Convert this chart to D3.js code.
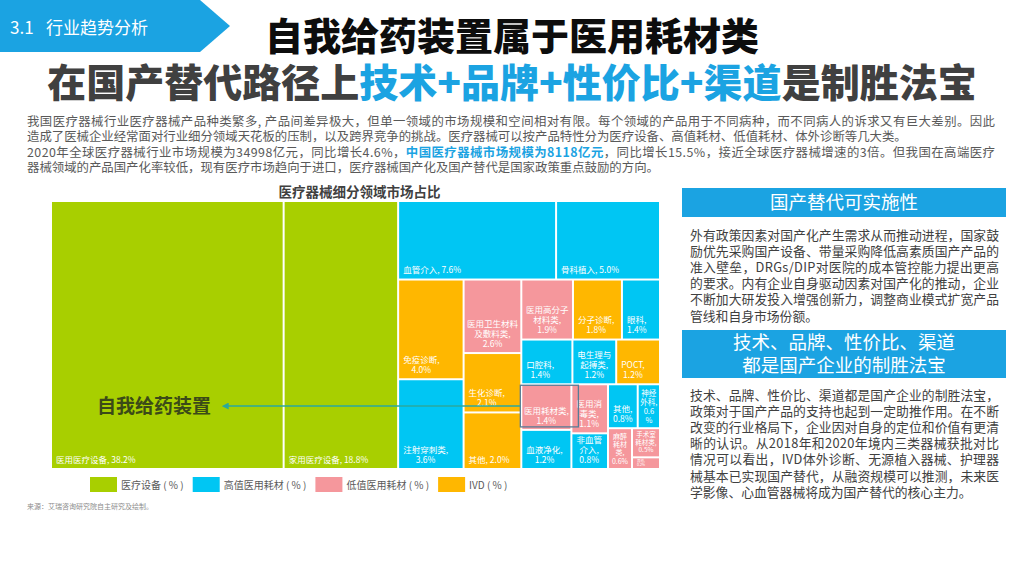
<!DOCTYPE html>
<html lang="zh-CN">
<head>
<meta charset="UTF-8">
<title>医疗器械细分领域市场占比</title>
<script src="https://cdn.jsdelivr.net/npm/d3@7/dist/d3.min.js"></script>
<style>
  body { margin: 0; background: #ffffff; }
  svg { display: block; font-family: "Noto Sans CJK SC", "Microsoft YaHei", sans-serif; }
</style>
</head>
<body>
<svg id="slide" width="1024" height="576"></svg>
<script>
// ---- data ----
const categories = ["医疗设备 ( % )", "高值医用耗材 ( % )", "低值医用耗材 ( % )", "IVD ( % )"];
const catColors = ["#a8cf00", "#00c6f3", "#f5979c", "#ffb700"];

// treemap cells, in the order they are placed
const segNames = ["医用医疗设备", "家用医疗设备", "血管介入", "骨科植入", "免疫诊断", "注射穿刺类",
  "医用卫生材料及敷料类", "生化诊断", "其他", "医用高分子材料类", "分子诊断", "眼科",
  "口腔科", "电生理与起搏类", "POCT", "医用耗材类", "血液净化", "医用消毒类", "非血管介入",
  "其他", "神经外科", "麻醉耗材类", "手术室耗材类", "其他"];
const segValues = [38.2, 18.8, 7.6, 5.0, 4.0, 3.6, 2.6, 2.1, 2.0, 1.9, 1.8, 1.4,
  1.4, 1.2, 1.2, 1.4, 1.2, 1.1, 0.8, 0.8, 0.6, 0.6, 0.5, 0.2];
const segTypes = [0, 0, 1, 1, 3, 1, 2, 3, 3, 2, 3, 1, 1, 1, 3, 2, 1, 2, 1, 1, 1, 2, 2, 2];

// how the cells nest: "h" = side by side, "v" = stacked (numbers are cell indexes)
const layout = ["h", 0, 1,
  ["v", ["h", 2, 3],
        ["h", ["v", 4, 5], ["v", 6, 7, 8],
              ["v", ["h", 9, 10, 11], ["h", 12, 13, 14],
                    ["h", ["v", 15, 16], ["v", 17, 18],
                          ["v", ["h", 19, 20], ["h", 21, ["v", 22, 23]]]]]]]];
const highlightCell = 15;   // 医用耗材类

const introLines = [
  [["我国医疗器械行业医疗器械产品种类繁多, 产品间差异极大，但单一领域的市场规模和空间相对有限。每个领域的产品用于不同病种，而不同病人的诉求又有巨大差别。因此", 0]],
  [["造成了医械企业经常面对行业细分领域天花板的压制，以及跨界竞争的挑战。医疗器械可以按产品特性分为医疗设备、高值耗材、低值耗材、体外诊断等几大类。", 0]],
  [["2020年全球医疗器械行业市场规模为34998亿元，同比增长4.6%，", 0], ["中国医疗器械市场规模为8118亿元", 1],
   ["，同比增长15.5%，接近全球医疗器械增速的3倍。但我国在高端医疗", 0]],
  [["器械领域的产品国产化率较低，现有医疗市场趋向于进口，医疗器械国产化及国产替代是国家政策重点鼓励的方向。", 0]]
];
const introJustify = [true, false, true, false];

const box1Title = ["国产替代可实施性"];
const box1Text = ["外有政策因素对国产化产生需求从而推动进程，国家鼓", "励优先采购国产设备、带量采购降低高素质国产产品的",
  "准入壁垒，DRGs/DIP对医院的成本管控能力提出更高", "的要求。内有企业自身驱动因素对国产化的推动，企业",
  "不断加大研发投入增强创新力，调整商业模式扩宽产品", "管线和自身市场份额。"];
const box2Title = ["技术、品牌、性价比、渠道", "都是国产企业的制胜法宝"];
const box2Text = ["技术、品牌、性价比、渠道都是国产企业的制胜法宝，", "政策对于国产产品的支持也起到一定助推作用。在不断",
  "改变的行业格局下，企业因对自身的定位和价值有更清", "晰的认识。从2018年和2020年境内三类器械获批对比",
  "情况可以看出，IVD体外诊断、无源植入器械、护理器", "械基本已实现国产替代，从融资规模可以推测，未来医",
  "学影像、心血管器械将成为国产替代的核心主力。"];

const BLUE = "#1ba3e2";
const svg = d3.select("#slide");

// hidden text used to measure strings
const meter = svg.append("text").attr("visibility", "hidden");
function textW(s, size, weight) {
  meter.attr("font-size", size).attr("font-weight", weight || 400).text(s);
  return meter.node().getComputedTextLength();
}

// ---- header ----
svg.append("polygon").attr("points", "0,0 200,0 230,26 200,52 0,52").attr("fill", BLUE);
const tab = svg.append("text").attr("y", 34).attr("fill", "#fff").attr("font-size", 17);
tab.append("tspan").attr("x", 10).text("3.1");
tab.append("tspan").attr("x", 46).text("行业趋势分析");

svg.append("text").attr("x", 512).attr("y", 50).attr("text-anchor", "middle")
  .attr("font-size", 38).attr("font-weight", 900).attr("fill", "#0d0d0d")
  .text("自我给药装置属于医用耗材类");
const t2 = svg.append("text").attr("x", 512).attr("y", 97).attr("text-anchor", "middle")
  .attr("font-size", 39).attr("font-weight", 900).attr("fill", "#404040");
t2.append("tspan").text("在国产替代路径上");
t2.append("tspan").attr("fill", BLUE).text("技术+品牌+性价比+渠道");
t2.append("tspan").text("是制胜法宝");

// ---- intro paragraph ----
introLines.forEach((parts, i) => {
  const t = svg.append("text").attr("x", 27).attr("y", 125.5 + i * 15.5)
    .attr("font-size", 12.4).attr("fill", "#595959");
  parts.forEach(p => t.append("tspan").attr("fill", p[1] ? BLUE : null)
    .attr("font-weight", p[1] ? 700 : null).text(p[0]));
  if (introJustify[i]) t.attr("textLength", 968).attr("lengthAdjust", "spacing");
});

// ---- treemap ----
const tm = { x: 52, y: 202, w: 607, h: 266 };

function build(spec) {
  if (typeof spec === "number") {
    return { name: segNames[spec], value: segValues[spec], type: segTypes[spec], idx: spec };
  }
  return { dir: spec[0], children: spec.slice(1).map(build) };
}
const root = d3.hierarchy(build(layout)).sum(d => d.value || 0);
d3.treemap().size([tm.w, tm.h]).paddingInner(2)
  .tile((node, x0, y0, x1, y1) =>
    (node.data.dir === "v" ? d3.treemapSlice : d3.treemapDice)(node, x0, y0, x1, y1))(root);

svg.append("text").attr("x", tm.x + tm.w / 2 + 4).attr("y", 197).attr("text-anchor", "middle")
  .attr("font-size", 13.5).attr("font-weight", 700).attr("fill", "#404040")
  .text("医疗器械细分领域市场占比");

const gTree = svg.append("g").attr("transform", `translate(${tm.x},${tm.y})`);
const leaves = root.leaves();
const cell = gTree.selectAll("g.cell").data(leaves).join("g").attr("class", "cell");
cell.append("rect")
  .attr("x", d => d.x0).attr("y", d => d.y0)
  .attr("width", d => d.x1 - d.x0).attr("height", d => d.y1 - d.y0)
  .attr("fill", d => catColors[d.data.type]);

// greedy wrap; tokens too wide on their own are split into characters
function wrap(toks, maxW, size) {
  const pieces = [];
  toks.forEach(t => {
    if (textW(t.trim(), size) > maxW) Array.from(t.trim()).forEach(c => pieces.push(c));
    else pieces.push(t);
  });
  const rows = [];
  let cur = "";
  pieces.forEach(t => {
    if (cur === "") cur = t.trim();
    else if (textW(cur + t, size) <= maxW) cur += t;
    else { rows.push(cur); cur = t.trim(); }
  });
  rows.push(cur);
  return rows;
}

cell.each(function(d) {
  const w = d.x1 - d.x0, h = d.y1 - d.y0;
  const nameToks = d.data.name.match(/[A-Za-z]+|./g);
  nameToks[nameToks.length - 1] += ",";
  const pct = d.data.value.toFixed(1) + "%";
  const full = nameToks.join("") + " " + pct;
  let size = 8.5, rows;
  for (; size > 3.5; size -= 0.5) {
    if (textW(full, size) <= w - 12) rows = [full];
    else rows = wrap(nameToks, w - 3, size).concat(wrap([pct], w - 3, size));
    const widest = d3.max(rows, r => textW(r, size));
    if (rows.length * size * 1.2 <= h - 3 && widest <= w - 2) break;
  }
  const lh = size * 1.2;
  const base = d.y1 - size * 0.6;
  const t = d3.select(this).append("text").attr("fill", "#fff").attr("font-size", size);
  if (rows.length === 1) {
    t.append("tspan").attr("x", d.x0 + Math.min(4, w / 10)).attr("y", base).text(rows[0]);
  } else {
    const bw = d3.max(rows, r => textW(r, size));
    const left = d.x0 + Math.min(4, (w - bw) / 2);
    rows.forEach((r, i) => t.append("tspan")
      .attr("x", left + bw / 2).attr("text-anchor", "middle")
      .attr("y", base - (rows.length - 1 - i) * lh).text(r));
  }
});

// annotation: 自我给药装置 -> 医用耗材类
const hl = leaves.find(d => d.data.idx === highlightCell);
const boxX0 = tm.x + hl.x0 - 2, boxX1 = tm.x + hl.x1 + 8;
const boxY0 = tm.y + hl.y0, boxY1 = tm.y + hl.y1 - 2;
const midY = (boxY0 + boxY1) / 2;
svg.append("rect").attr("x", boxX0).attr("y", boxY0)
  .attr("width", boxX1 - boxX0).attr("height", boxY1 - boxY0)
  .attr("fill", "none").attr("stroke", "#587c96").attr("stroke-width", 1.3);

const annX = tm.x + 45;
const ann = svg.append("text").attr("x", annX).attr("y", midY + 7)
  .attr("font-size", 19).attr("font-weight", 700).attr("fill", "#3b4a18")
  .text("自我给药装置");
const tipX = annX + ann.node().getComputedTextLength() + 17;
svg.append("defs").append("marker").attr("id", "arrow")
  .attr("viewBox", "0 0 10 10").attr("refX", 1).attr("refY", 5)
  .attr("markerWidth", 7).attr("markerHeight", 7).attr("markerUnits", "userSpaceOnUse")
  .attr("orient", "auto-start-reverse")
  .append("path").attr("d", "M0,0 L10,5 L0,10 z").attr("fill", "#2aa89e");
svg.append("line").attr("x1", tipX).attr("y1", midY).attr("x2", boxX0).attr("y2", midY)
  .attr("stroke", "#2aa89e").attr("stroke-width", 1.5).attr("marker-start", "url(#arrow)");

// legend
let lx = 90;
categories.forEach((c, i) => {
  svg.append("rect").attr("x", lx).attr("y", 477).attr("width", 27).attr("height", 15)
    .attr("fill", catColors[i]);
  const t = svg.append("text").attr("x", lx + 31).attr("y", 488.5)
    .attr("font-size", 10).attr("fill", "#595959").text(c);
  lx += 31 + t.node().getComputedTextLength() + 9;
});

svg.append("text").attr("x", 27).attr("y", 509).attr("font-size", 7).attr("fill", "#8c8c8c")
  .text("来源：艾瑞咨询研究院自主研究及绘制。");

// ---- right panel ----
function panel(titleRows, y0, hTitle, bodyRows, bodyY) {
  svg.append("rect").attr("x", 682).attr("y", y0).attr("width", 324).attr("height", hTitle)
    .attr("fill", BLUE);
  const cy = y0 + hTitle / 2;
  titleRows.forEach((r, i) => svg.append("text").attr("x", 844)
    .attr("y", cy + (i - (titleRows.length - 1) / 2) * 23 + 6.5)
    .attr("text-anchor", "middle").attr("font-size", 18.5).attr("fill", "#fff").text(r));
  bodyRows.forEach((r, i) => {
    const t = svg.append("text").attr("x", 690).attr("y", bodyY + i * 16.2)
      .attr("font-size", 12.8).attr("fill", "#404040").text(r);
    if (i < bodyRows.length - 1) t.attr("textLength", 309).attr("lengthAdjust", "spacing");
  });
}
panel(box1Title, 188, 29, box1Text, 239.5);
panel(box2Title, 330, 48, box2Text, 399.5);

meter.remove();
</script>
</body>
</html>
